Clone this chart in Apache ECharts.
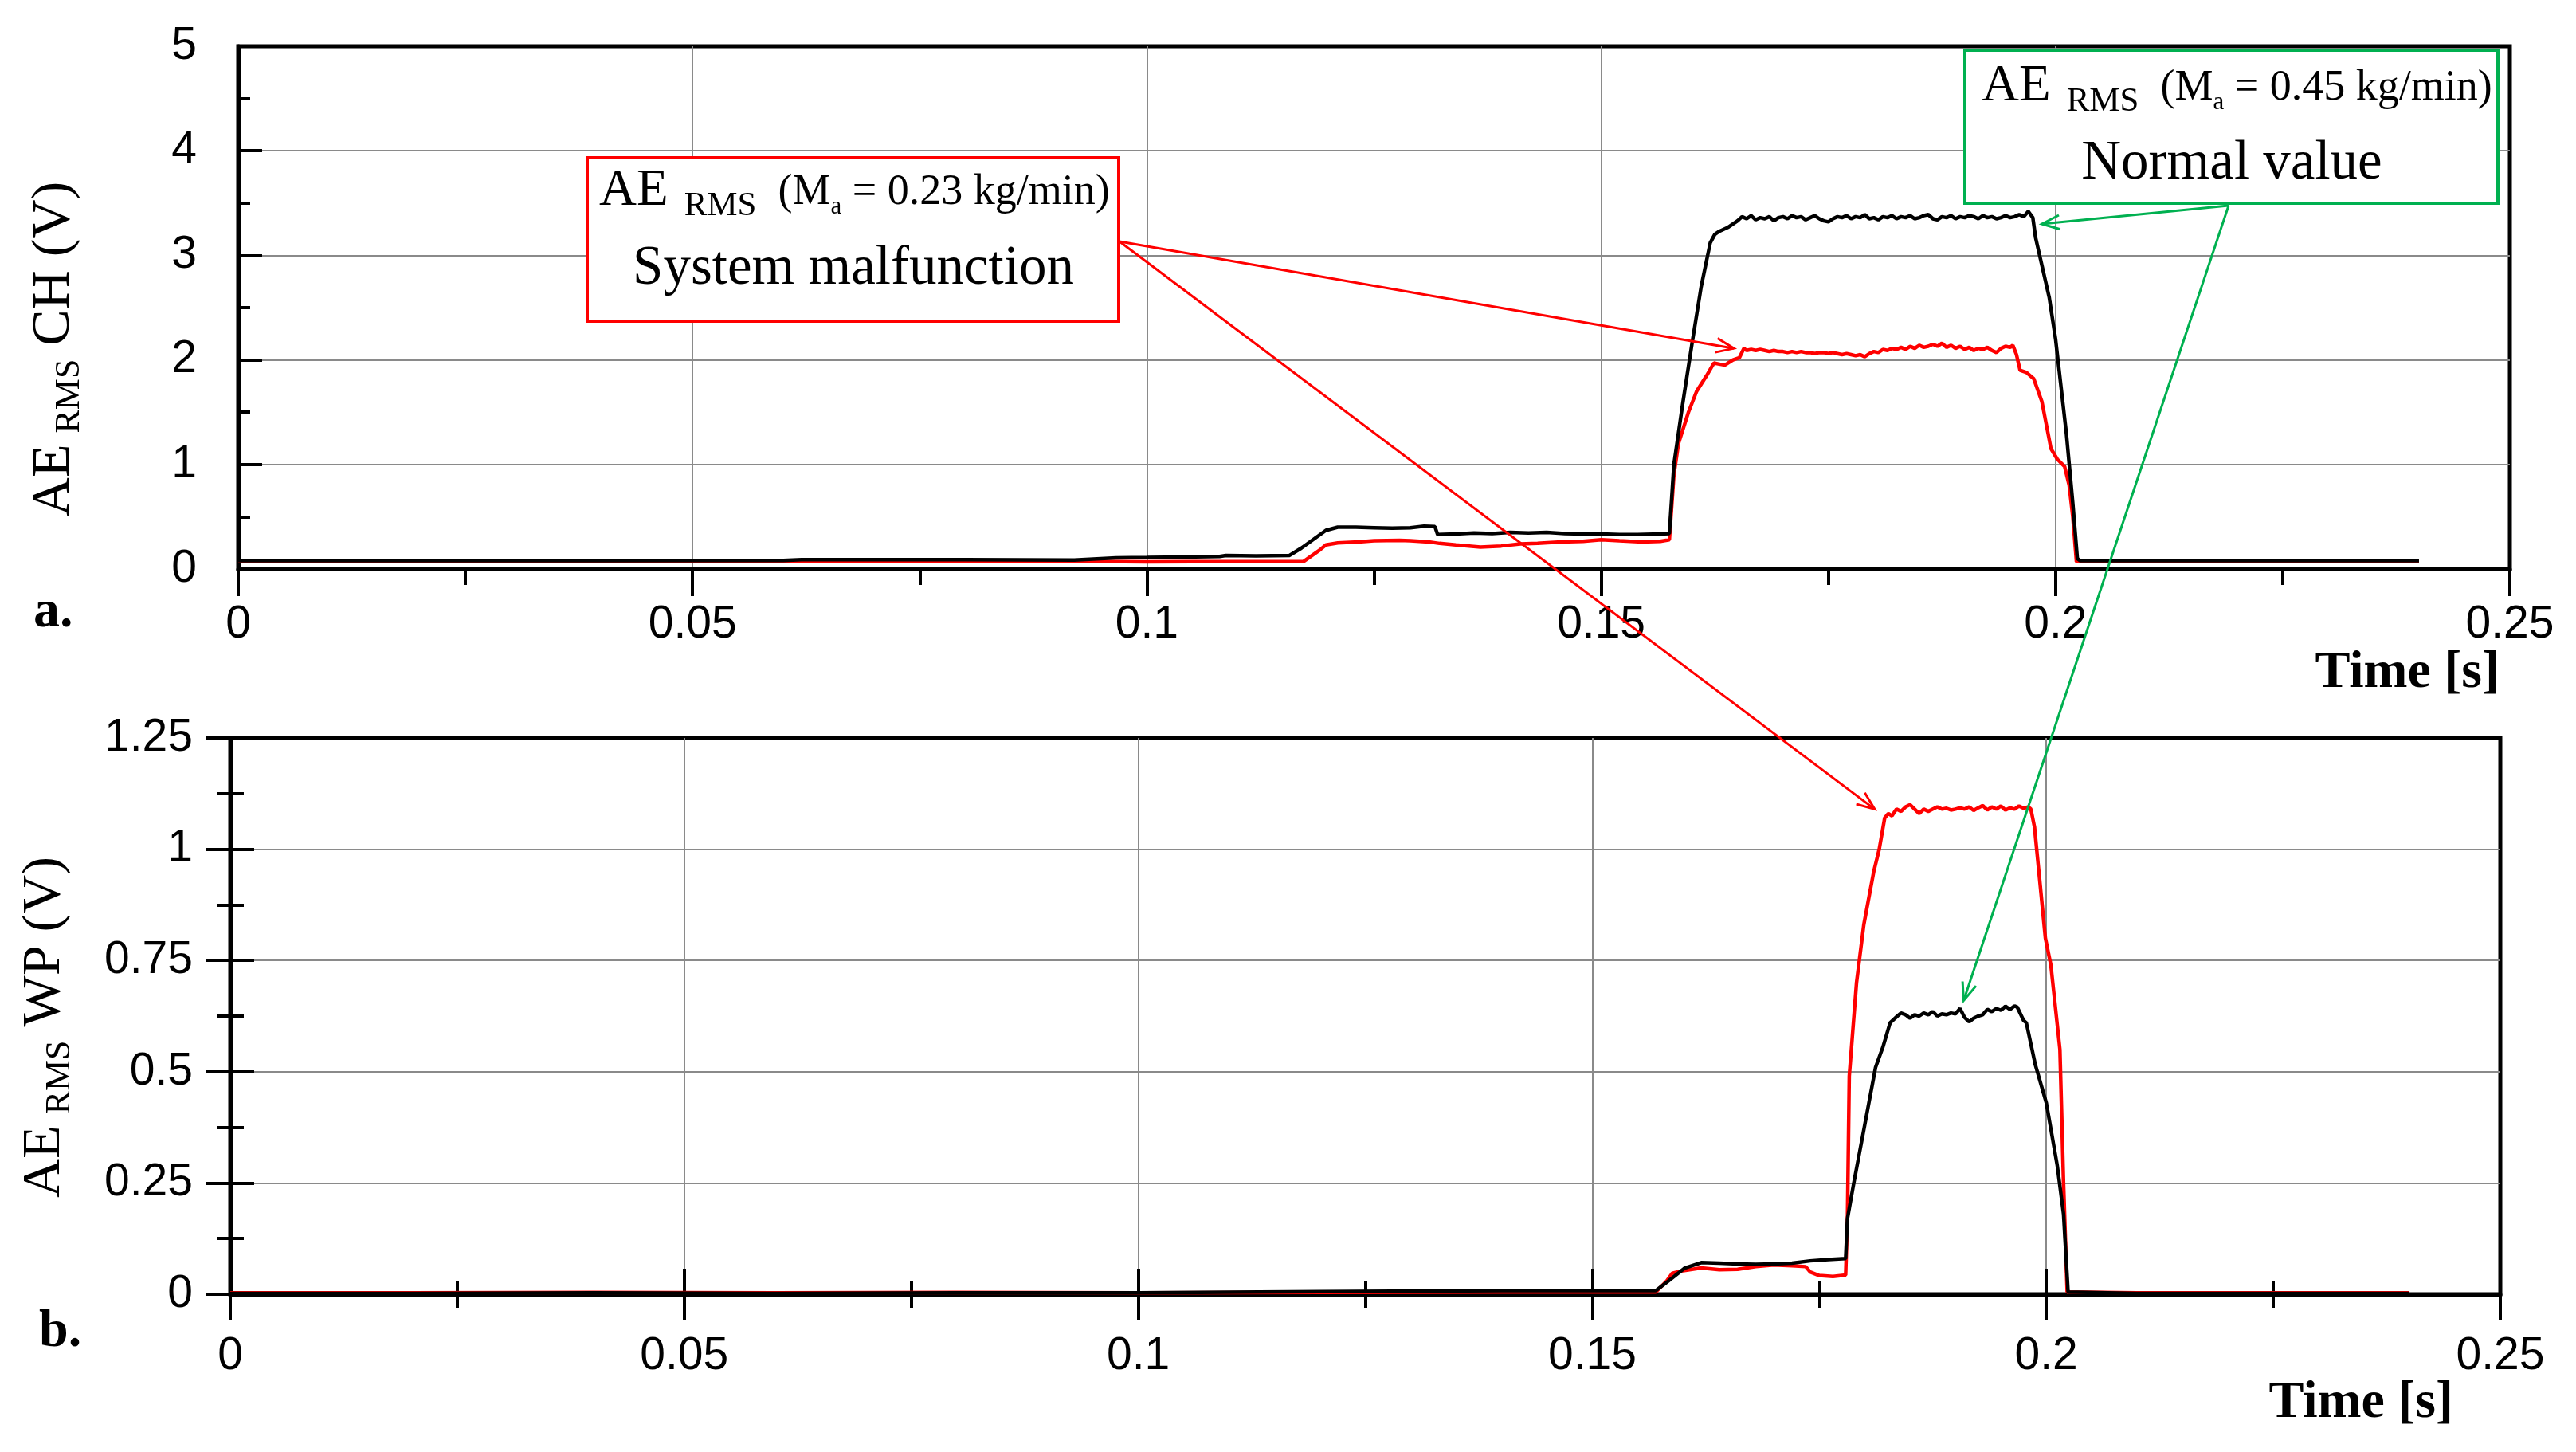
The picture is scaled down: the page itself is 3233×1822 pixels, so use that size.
<!DOCTYPE html>
<html><head><meta charset="utf-8">
<script src="https://cdn.jsdelivr.net/npm/echarts@6/dist/echarts.min.js"></script>
<style>html,body{margin:0;padding:0;background:#fff}#c{width:3233px;height:1822px}</style>
</head><body><div id="c"></div>
<script>
// ---- data: [time (s), AE_RMS (V)] ----
const chNormal = [[0,0.08],[0.02,0.08],[0.04,0.08],[0.06,0.082],[0.062,0.09],[0.08,0.09],[0.092,0.086],[0.0966,0.107],[0.1,0.11],[0.104,0.115],[0.108,0.12],[0.1087,0.13],[0.112,0.125],[0.1157,0.13],[0.117,0.2],[0.1197,0.37],[0.121,0.40],[0.123,0.40],[0.125,0.395],[0.127,0.39],[0.129,0.395],[0.1305,0.41],[0.1317,0.405],[0.132,0.33],[0.134,0.335],[0.136,0.345],[0.138,0.34],[0.14,0.35],[0.142,0.345],[0.144,0.35],[0.146,0.34],[0.148,0.335],[0.15,0.335],[0.152,0.33],[0.154,0.33],[0.1565,0.335],[0.1575,0.34],[0.158,1.0],[0.159,1.6],[0.16,2.16],[0.161,2.7],[0.162,3.12],[0.1625,3.2],[0.163,3.23],[0.164,3.27],[0.165,3.33],[0.1655,3.37],
[0.166,3.35],[0.1665,3.38],[0.167,3.34],[0.1675,3.36],[0.168,3.35],[0.1685,3.37],[0.169,3.33],[0.1695,3.36],[0.170,3.37],[0.1705,3.35],[0.171,3.38],[0.1715,3.36],[0.172,3.37],[0.1725,3.34],[0.173,3.36],[0.1735,3.38],[0.174,3.35],[0.1745,3.33],[0.175,3.32],[0.1755,3.35],[0.176,3.37],[0.1765,3.36],[0.177,3.38],[0.1775,3.35],[0.178,3.37],[0.1785,3.36],[0.179,3.39],[0.1795,3.35],[0.180,3.36],[0.1805,3.34],[0.181,3.37],[0.1815,3.36],[0.182,3.38],[0.1825,3.35],[0.183,3.37],[0.1835,3.36],[0.184,3.38],[0.1845,3.35],[0.185,3.36],[0.1855,3.38],[0.186,3.39],[0.1865,3.35],[0.187,3.34],[0.1875,3.37],[0.188,3.36],[0.1885,3.38],[0.189,3.35],[0.1895,3.37],[0.190,3.36],[0.1905,3.38],[0.191,3.37],[0.1915,3.35],[0.192,3.38],[0.1925,3.36],[0.193,3.37],[0.1935,3.35],[0.194,3.36],[0.1945,3.38],[0.195,3.36],[0.1955,3.37],[0.196,3.39],[0.1965,3.37],[0.197,3.42],
[0.1975,3.36],[0.1978,3.17],[0.1993,2.6],[0.2,2.2],[0.2012,1.29],[0.2019,0.63],[0.2024,0.1],[0.2027,0.08],[0.22,0.08],[0.24,0.08]];

const chMalfunction = [[0,0.07],[0.03,0.07],[0.06,0.07],[0.09,0.072],[0.095,0.072],[0.1,0.068],[0.105,0.07],[0.11,0.07],[0.1172,0.07],[0.119,0.18],[0.1197,0.23],[0.121,0.25],[0.1233,0.26],[0.125,0.27],[0.1278,0.275],[0.129,0.27],[0.131,0.26],[0.1322,0.245],[0.134,0.23],[0.1367,0.21],[0.139,0.22],[0.1411,0.24],[0.143,0.245],[0.1456,0.26],[0.148,0.265],[0.150,0.28],[0.152,0.27],[0.1545,0.26],[0.1565,0.265],[0.1575,0.28],[0.158,0.9],[0.1585,1.2],[0.1596,1.5],[0.1605,1.7],[0.1616,1.85],[0.1624,1.97],[0.163,1.96],[0.1636,1.95],[0.1645,2.0],[0.1652,2.02],
[0.1657,2.11],[0.166,2.09],[0.1665,2.10],[0.167,2.09],[0.1675,2.10],[0.168,2.09],[0.1685,2.08],[0.169,2.09],[0.1695,2.08],[0.170,2.08],[0.1705,2.07],[0.171,2.08],[0.1715,2.07],[0.172,2.08],[0.1725,2.07],[0.173,2.07],[0.1735,2.06],[0.174,2.07],[0.1745,2.07],[0.175,2.06],[0.1755,2.07],[0.176,2.06],[0.1765,2.05],[0.177,2.06],[0.1775,2.05],[0.178,2.04],[0.1785,2.05],[0.179,2.03],[0.1795,2.06],[0.180,2.08],[0.1805,2.07],[0.181,2.10],[0.1815,2.09],[0.182,2.11],[0.1825,2.10],[0.183,2.12],[0.1835,2.10],[0.184,2.13],[0.1845,2.11],[0.185,2.14],[0.1855,2.12],[0.186,2.13],[0.1865,2.15],[0.187,2.13],[0.1875,2.16],[0.188,2.12],[0.1885,2.14],[0.189,2.11],[0.1895,2.13],[0.190,2.10],[0.1905,2.12],[0.191,2.09],[0.1915,2.11],[0.192,2.10],[0.1925,2.12],[0.193,2.09],[0.1935,2.07],[0.194,2.11],[0.1945,2.13],[0.195,2.12],[0.1953,2.14],
[0.1957,2.05],[0.1961,1.9],[0.1968,1.88],[0.1976,1.82],[0.1985,1.6],[0.1995,1.15],[0.2002,1.05],[0.201,0.98],[0.2015,0.8],[0.2019,0.5],[0.2023,0.07],[0.22,0.07],[0.24,0.07]];

const wpNormal = [[0,0.002],[0.02,0.002],[0.04,0.003],[0.06,0.002],[0.08,0.003],[0.1,0.003],[0.12,0.006],[0.14,0.008],[0.157,0.008],[0.1582,0.027],[0.1602,0.059],[0.162,0.071],[0.164,0.07],[0.166,0.068],[0.168,0.067],[0.17,0.068],[0.172,0.07],[0.174,0.075],[0.176,0.078],[0.1779,0.08],[0.1781,0.17],[0.1788,0.25],[0.18,0.38],[0.1812,0.51],[0.182,0.555],[0.1828,0.61],
[0.1836,0.625],[0.184,0.632],[0.1845,0.628],[0.185,0.62],[0.1855,0.628],[0.186,0.625],[0.1865,0.632],[0.187,0.628],[0.1875,0.635],[0.188,0.625],[0.1885,0.63],[0.189,0.628],[0.1895,0.632],[0.19,0.63],[0.1905,0.642],[0.191,0.622],[0.1915,0.612],[0.192,0.62],[0.1925,0.625],[0.193,0.628],[0.1935,0.64],[0.194,0.635],[0.1945,0.642],[0.195,0.638],[0.1955,0.647],[0.196,0.64],[0.1965,0.648],[0.1968,0.645],
[0.1975,0.615],[0.1978,0.61],[0.1988,0.515],[0.2,0.43],[0.2012,0.29],[0.2019,0.18],[0.2024,0.005],[0.21,0.002],[0.24,0.002]];

const wpMalfunction = [[0,0.003],[0.02,0.003],[0.04,0.004],[0.06,0.003],[0.08,0.004],[0.1,0.003],[0.12,0.004],[0.14,0.005],[0.157,0.005],[0.1582,0.03],[0.1588,0.047],[0.16,0.053],[0.162,0.059],[0.164,0.055],[0.166,0.056],[0.168,0.062],[0.17,0.066],[0.172,0.064],[0.1735,0.062],[0.174,0.05],[0.175,0.042],[0.1765,0.04],[0.1779,0.043],[0.1781,0.17],[0.1783,0.49],[0.1791,0.70],[0.1799,0.83],[0.181,0.95],[0.1816,1.0],
[0.1822,1.07],[0.1826,1.08],[0.183,1.075],[0.1835,1.09],[0.184,1.085],[0.1845,1.095],[0.185,1.10],[0.1855,1.09],[0.186,1.08],[0.1865,1.09],[0.187,1.085],[0.1875,1.09],[0.188,1.095],[0.1885,1.09],[0.189,1.092],[0.1895,1.088],[0.19,1.09],[0.1905,1.093],[0.191,1.09],[0.1915,1.095],[0.192,1.087],[0.1925,1.093],[0.193,1.098],[0.1935,1.088],[0.194,1.095],[0.1945,1.09],[0.195,1.097],[0.1955,1.088],[0.196,1.093],[0.1965,1.09],[0.197,1.097],[0.1975,1.092],[0.198,1.095],[0.1983,1.09],
[0.1987,1.05],[0.1999,0.80],[0.2005,0.74],[0.2015,0.55],[0.2019,0.25],[0.2023,0.005],[0.21,0.003],[0.22,0.003],[0.24,0.003]];

// annotation arrow targets, in data coordinates [panel, [time, value]]
const redArrowTargets = [[0, [0.1646, 2.11]], [1, [0.1811, 1.09]]];
const greenArrowTargets = [[0, [0.1985, 3.30]], [1, [0.1909, 0.66]]];

const SANS = '"Liberation Sans", Arial, sans-serif';
const SERIF = '"Liberation Serif", "Times New Roman", serif';
const BLACK = '#000000', RED = '#ff0000', GREEN = '#00b050';

const chart = echarts.init(document.getElementById('c'), null, {renderer: 'canvas'});

function lbl(margin) { return {show: true, fontSize: 57, color: '#000', fontFamily: SANS, margin: margin}; }
const tickStyle = {color: '#000', width: 4};
const gridLine = {show: true, showMinLine: false, showMaxLine: false, lineStyle: {color: '#8a8a8a', width: 2}};
const nameRich = {
  ae: {fontSize: 68, fontFamily: SERIF, color: '#000', verticalAlign: 'bottom', padding: [0, 0, 7, 0]},
  rms: {fontSize: 44, fontFamily: SERIF, color: '#000', verticalAlign: 'bottom', padding: [0, 0, 0, 14]}
};

function hiddenAxisBase(extra) {
  return Object.assign({type: 'value', axisLine: {show: false}, axisLabel: {show: false}, splitLine: {show: false}}, extra);
}

const option = {
  backgroundColor: '#ffffff',
  animation: false,
  grid: [
    {left: 299, top: 58, width: 2851, height: 656, show: true, borderColor: '#000', borderWidth: 5, containLabel: false},
    {left: 289, top: 926, width: 2849, height: 698, show: true, borderColor: '#000', borderWidth: 5, containLabel: false}
  ],
  xAxis: [
    {gridIndex: 0, type: 'value', min: 0, max: 0.25, interval: 0.05,
     axisLine: {show: true, onZero: false, lineStyle: {color: '#000', width: 5}},
     axisTick: {show: true, inside: false, length: 34, lineStyle: tickStyle},
     minorTick: {show: true, splitNumber: 2, length: 20, lineStyle: tickStyle},
     axisLabel: lbl(42), splitLine: gridLine},
    {gridIndex: 1, type: 'value', min: 0, max: 0.25, interval: 0.05,
     axisLine: {show: true, onZero: false, lineStyle: {color: '#000', width: 5}},
     axisTick: {show: true, inside: true, length: 32, lineStyle: tickStyle},
     minorTick: {show: true, splitNumber: 2, length: 17, lineStyle: tickStyle},
     axisLabel: lbl(50), splitLine: gridLine},
    hiddenAxisBase({gridIndex: 1, min: 0, max: 0.25, interval: 0.05, position: 'bottom',
     axisTick: {show: true, inside: false, length: 32, lineStyle: tickStyle},
     minorTick: {show: true, splitNumber: 2, length: 17, lineStyle: tickStyle}})
  ],
  yAxis: [
    {gridIndex: 0, type: 'value', min: 0, max: 5, interval: 1,
     name: '{ae|AE}{rms|RMS}{ae| CH (V)}', nameLocation: 'middle', nameGap: 190,
     nameTextStyle: {rich: nameRich, padding: [0, 104, 0, 0]},
     axisLine: {show: true, onZero: false, lineStyle: {color: '#000', width: 5}},
     axisTick: {show: true, inside: true, length: 30, lineStyle: tickStyle},
     minorTick: {show: true, splitNumber: 2, length: 15, lineStyle: tickStyle},
     axisLabel: lbl(52), splitLine: gridLine},
    {gridIndex: 1, type: 'value', min: 0, max: 1.25, interval: 0.25,
     name: '{ae|AE}{rms|RMS}{ae| WP (V)}', nameLocation: 'middle', nameGap: 192,
     nameTextStyle: {rich: nameRich, padding: [0, 28, 0, 0]},
     axisLine: {show: true, onZero: false, lineStyle: {color: '#000', width: 5}},
     axisTick: {show: true, inside: true, length: 30, lineStyle: tickStyle},
     minorTick: {show: true, splitNumber: 2, length: 17, lineStyle: tickStyle},
     axisLabel: lbl(47), splitLine: gridLine},
    hiddenAxisBase({gridIndex: 1, min: 0, max: 1.25, interval: 0.25, position: 'left',
     axisTick: {show: true, inside: false, length: 30, lineStyle: tickStyle},
     minorTick: {show: true, splitNumber: 2, length: 17, lineStyle: tickStyle}})
  ],
  series: [
    {name: 'CH 0.45 kg/min', type: 'line', xAxisIndex: 0, yAxisIndex: 0, data: chNormal, showSymbol: false, lineStyle: {color: BLACK, width: 4.5}, itemStyle: {color: BLACK}, z: 3},
    {name: 'CH 0.23 kg/min', type: 'line', xAxisIndex: 0, yAxisIndex: 0, data: chMalfunction, showSymbol: false, lineStyle: {color: RED, width: 4.5}, itemStyle: {color: RED}, z: 2},
    {name: 'WP 0.45 kg/min', type: 'line', xAxisIndex: 1, yAxisIndex: 1, data: wpNormal, showSymbol: false, lineStyle: {color: BLACK, width: 4.5}, itemStyle: {color: BLACK}, z: 3},
    {name: 'WP 0.23 kg/min', type: 'line', xAxisIndex: 1, yAxisIndex: 1, data: wpMalfunction, showSymbol: false, lineStyle: {color: RED, width: 4.5}, itemStyle: {color: RED}, z: 2}
  ]
};
chart.setOption(option);

// ---- annotations ----
function toPx(panel, pt) {
  return chart.convertToPixel({xAxisIndex: panel === 0 ? 0 : 1, yAxisIndex: panel === 0 ? 0 : 1}, pt);
}
function arrow(start, end, color) {
  const dx = end[0] - start[0], dy = end[1] - start[1];
  const ang = Math.atan2(dy, dx);
  const L = 24, spread = 0.38;
  const p1 = [end[0] - L * Math.cos(ang - spread), end[1] - L * Math.sin(ang - spread)];
  const p2 = [end[0] - L * Math.cos(ang + spread), end[1] - L * Math.sin(ang + spread)];
  return [
    {type: 'line', z: 100, shape: {x1: start[0], y1: start[1], x2: end[0], y2: end[1]}, style: {stroke: color, lineWidth: 3}},
    {type: 'polyline', z: 100, shape: {points: [p1, end, p2]}, style: {stroke: color, lineWidth: 3, fill: null}}
  ];
}
const boxRich = {
  ae: {fontSize: 65, fontFamily: SERIF, color: '#000', verticalAlign: 'bottom', padding: [0, 0, 8, 0]},
  rms: {fontSize: 43, fontFamily: SERIF, color: '#000', verticalAlign: 'bottom', padding: [0, 0, 0, 20]},
  p: {fontSize: 54, fontFamily: SERIF, color: '#000', verticalAlign: 'bottom', padding: [0, 0, 11, 0]},
  s: {fontSize: 31, fontFamily: SERIF, color: '#000', verticalAlign: 'bottom', padding: [0, 0, 5, 0]}
};
function textEl(x, y, text, opts) {
  const st = Object.assign({x: x, y: y, text: text, fill: '#000', fontFamily: SERIF, fontSize: 66}, opts);
  if (st.align) st.textAlign = st.align;
  if (st.verticalAlign) st.textVerticalAlign = st.verticalAlign;
  return {type: 'text', z: 101, style: st};
}

const redStart = [1405, 303];
const greenStart = [2797, 258];
let g = [];
g.push({type: 'rect', z: 99, shape: {x: 737, y: 198, width: 667, height: 205}, style: {fill: '#fff', stroke: RED, lineWidth: 4}});
g.push(textEl(752, 207, '{ae|AE}{rms|RMS}{p|  (M}{s|a}{p| = 0.23 kg/min)}', {rich: boxRich, align: 'left', verticalAlign: 'top'}));
g.push(textEl(1071, 338, 'System malfunction', {align: 'center', verticalAlign: 'middle', fontSize: 69}));
g.push({type: 'rect', z: 99, shape: {x: 2466, y: 63, width: 669, height: 192}, style: {fill: '#fff', stroke: GREEN, lineWidth: 4}});
g.push(textEl(2487, 76, '{ae|AE}{rms|RMS}{p|  (M}{s|a}{p| = 0.45 kg/min)}', {rich: boxRich, align: 'left', verticalAlign: 'top'}));
g.push(textEl(2801, 206, 'Normal value', {align: 'center', verticalAlign: 'middle', fontSize: 69}));
redArrowTargets.forEach(function (t) { g = g.concat(arrow(redStart, toPx(t[0], t[1]), RED)); });
greenArrowTargets.forEach(function (t) { g = g.concat(arrow(greenStart, toPx(t[0], t[1]), GREEN)); });
g.push(textEl(3137, 845, 'Time [s]', {align: 'right', verticalAlign: 'middle', fontWeight: 'bold'}));
g.push(textEl(3079, 1761, 'Time [s]', {align: 'right', verticalAlign: 'middle', fontWeight: 'bold'}));
g.push(textEl(42, 769, 'a.', {align: 'left', verticalAlign: 'middle', fontWeight: 'bold'}));
g.push(textEl(49, 1672, 'b.', {align: 'left', verticalAlign: 'middle', fontWeight: 'bold'}));
chart.setOption({graphic: g});
</script></body></html>
